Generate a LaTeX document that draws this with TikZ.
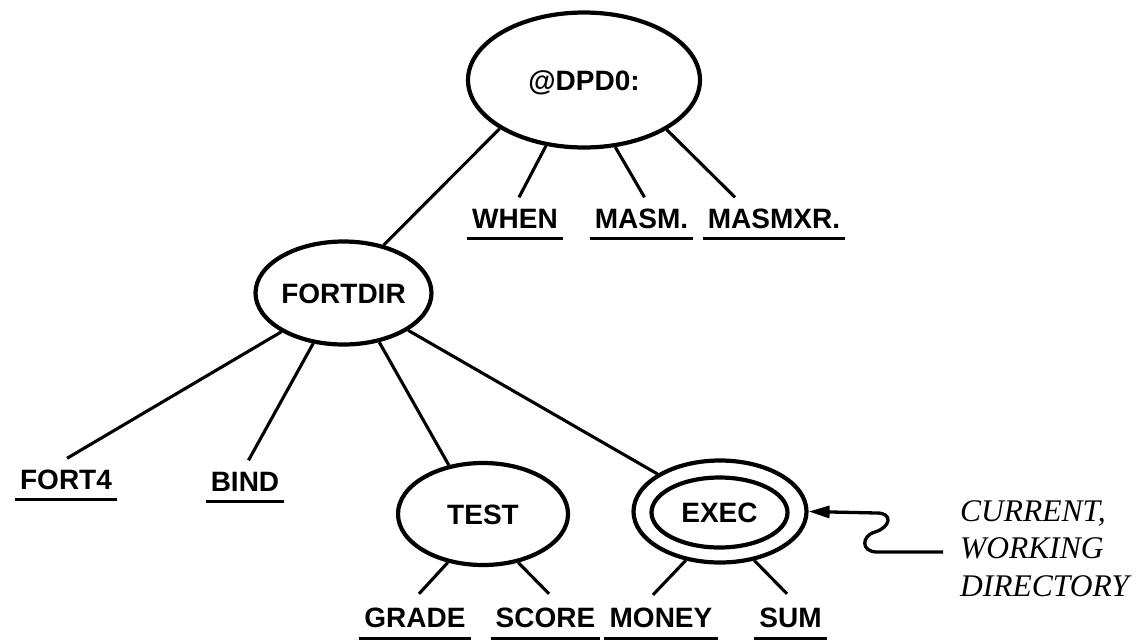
\documentclass[tikz,border=0pt]{standalone}
\usepackage{fontspec}
\setmainfont{Liberation Serif}
\newfontfamily\labelsans{Liberation Sans}
\usetikzlibrary{arrows.meta,shapes.geometric}

\begin{document}
\begin{tikzpicture}[x=1pt,y=-1pt,
  sanslabel/.style={font=\labelsans\bfseries\fontsize{28}{32}\selectfont,
                    text height=20pt, text depth=0pt},
  dirnode/.style={ellipse, draw, line width=4.2pt, inner sep=0pt, sanslabel},
  filenode/.style={anchor=base, inner xsep=5pt, inner ysep=10.5pt, sanslabel},
  link/.style={line width=3.1pt},
  underbar/.style={line width=3.4pt},
  pointer/.style={line width=3.3pt, -{Triangle[length=21pt,width=12pt]}},
  note/.style={font=\itshape\fontsize{31.5}{37.5}\selectfont, align=left,
               anchor=north west, inner sep=0pt}]
\useasboundingbox (0,0) rectangle (1138,641);

% directories
\node[dirnode, minimum width=232pt, minimum height=135pt] (root) at (584,80) {@DPD0:};
\node[dirnode, minimum width=172pt, minimum height=103pt] (fortdir) at (343.5,293) {FORTDIR};
\node[dirnode, minimum width=170pt, minimum height=102pt] (test) at (483,514) {TEST};
\node[dirnode, minimum width=173pt, minimum height=102pt] (execring) at (720,511.5) {};
\node[dirnode, minimum width=136pt, minimum height=70pt] (exec) at (719.5,512.5) {EXEC};

% files
\node[filenode] (when)   at (515,228)   {WHEN};
\node[filenode] (masm)   at (641.5,228) {MASM.};
\node[filenode] (masmxr) at (774,228)   {MASMXR.};
\node[filenode] (fort4)  at (66,489)    {FORT4};
\node[filenode] (bind)   at (245,491)   {BIND};
\node[filenode] (grade)  at (415,627.5) {GRADE};
\node[filenode] (score)  at (545.5,627.5) {SCORE};
\node[filenode] (money)  at (661,627.5) {MONEY};
\node[filenode] (sum)    at (790.5,627.5) {SUM};

\foreach \f in {when,masm,masmxr,fort4,bind,grade,score,money,sum}
  \draw[underbar] (\f.south west) -- (\f.south east);

% tree links
\draw[link] (root.210.5) -- (fortdir.50.3);
\draw[link] (root.240.8) -- ([xshift=4pt]when.north);
\draw[link] (root.295.3) -- ([xshift=3pt]masm.north);
\draw[link] (root.329.4) -- ([xshift=-39pt]masmxr.north);
\draw[link] (fortdir.212) -- ([xshift=1pt]fort4.north);
\draw[link] (fortdir.239) -- ([xshift=3.5pt]bind.north);
\draw[link] (fortdir.306.9) -- (test.125.9);
\draw[link] (fortdir.330.9) -- (execring.149);
\draw[link] (test.234.8) -- ([xshift=4pt,yshift=3pt]grade.north);
\draw[link] (test.306.7) -- ([xshift=3.5pt,yshift=3pt]score.north);
\draw[link] (execring.235.8) -- ([xshift=-8pt,yshift=2pt]money.north);
\draw[link] (execring.305) -- ([xshift=-3.5pt,yshift=3pt]sum.north);

% current working directory marker
\coordinate (tail) at (943,552);
\draw[pointer] (tail) -- (877,552)
  .. controls (861,552) and (861,536) .. (875,532)
  .. controls (891,527) and (893,513) .. (877,513)
  -- (execring.east);
\node[note] (cwd) at (960,500) {CURRENT,\\WORKING\\DIRECTORY};
\end{tikzpicture}
\end{document}
